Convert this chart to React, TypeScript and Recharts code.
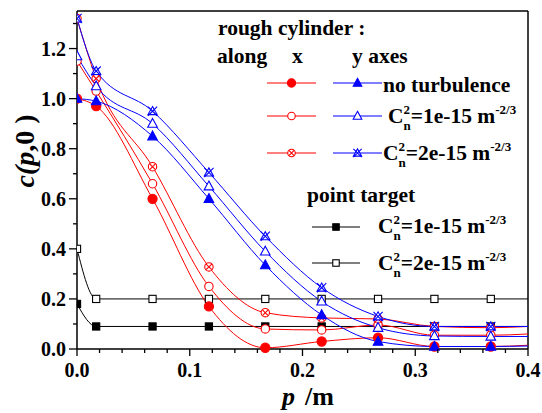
import React from 'react';
import { LineChart, Line, XAxis, YAxis, ReferenceLine } from 'recharts';

// ---- data ----
const pValues = [0, 0.017, 0.067, 0.117, 0.167, 0.217, 0.267, 0.317, 0.367, 0.4];

// rough cylinder, along x
const xNoTurbulence = [1.0, 0.97, 0.6, 0.17, 0.005, 0.03, 0.045, 0.01, 0.01, 0.015];
const xCn1e15 = [1.15, 1.03, 0.66, 0.25, 0.08, 0.076, 0.096, 0.055, 0.055, 0.06];
const xCn2e15 = [1.32, 1.08, 0.728, 0.328, 0.145, 0.124, 0.12, 0.09, 0.085, 0.09];

// rough cylinder, along y
const yNoTurbulence = [1.0, 0.99, 0.85, 0.6, 0.335, 0.136, 0.03, 0.01, 0.01, 0.012];
const yCn1e15 = [1.17, 1.05, 0.9, 0.65, 0.39, 0.19, 0.085, 0.052, 0.05, 0.05];
const yCn2e15 = [1.32, 1.11, 0.95, 0.705, 0.45, 0.245, 0.13, 0.09, 0.09, 0.09];

// point target
const ptCn1e15 = [0.18, 0.09, 0.09, 0.09, 0.09, 0.09, 0.09, 0.09, 0.09, 0.09];
const ptCn2e15 = [0.4, 0.2, 0.2, 0.2, 0.2, 0.2, 0.2, 0.2, 0.2, 0.2];

const xTicks = [0, 0.02, 0.04, 0.06, 0.08, 0.1, 0.12, 0.14, 0.16, 0.18, 0.2, 0.22, 0.24, 0.26, 0.28, 0.3, 0.32, 0.34, 0.36, 0.38, 0.4];
const yTicks = [0, 0.1, 0.2, 0.3, 0.4, 0.5, 0.6, 0.7, 0.8, 0.9, 1.0, 1.1, 1.2, 1.3];

const RED = '#ff0000';
const BLUE = '#0000ff';
const BLACK = '#000000';
const FONT = '"Liberation Serif", "Times New Roman", serif';
const LEG = 21.5;

type Shape = 'circleFilled' | 'circleOpen' | 'circleCross' | 'triFilled' | 'triOpen' | 'star' | 'squareFilled' | 'squareOpen';

const series: { key: string; values: number[]; color: string; shape: Shape }[] = [
  { key: 'pt1', values: ptCn1e15, color: BLACK, shape: 'squareFilled' },
  { key: 'pt2', values: ptCn2e15, color: BLACK, shape: 'squareOpen' },
  { key: 'x0', values: xNoTurbulence, color: RED, shape: 'circleFilled' },
  { key: 'x1', values: xCn1e15, color: RED, shape: 'circleOpen' },
  { key: 'x2', values: xCn2e15, color: RED, shape: 'circleCross' },
  { key: 'y0', values: yNoTurbulence, color: BLUE, shape: 'triFilled' },
  { key: 'y1', values: yCn1e15, color: BLUE, shape: 'triOpen' },
  { key: 'y2', values: yCn2e15, color: BLUE, shape: 'star' },
];

const data = pValues.map((p, i) => {
  const row: Record<string, number> = { p };
  series.forEach((s) => {
    row[s.key] = s.values[i];
  });
  return row;
});

function Marker({ shape, color, cx, cy, scale = 1 }: { shape: Shape; color: string; cx: number; cy: number; scale?: number }) {
  const r = 4.2 * scale;
  const sw = 1.1;
  switch (shape) {
    case 'circleFilled':
      return <circle cx={cx} cy={cy} r={4.6 * scale} fill={color} stroke={color} strokeWidth={sw} />;
    case 'circleOpen':
      return <circle cx={cx} cy={cy} r={r} fill="#fff" stroke={color} strokeWidth={sw} />;
    case 'circleCross': {
      const d = r * 0.68;
      return (
        <g>
          <circle cx={cx} cy={cy} r={r} fill="#fff" stroke={color} strokeWidth={sw} />
          <path d={`M${cx - d},${cy - d}L${cx + d},${cy + d}M${cx - d},${cy + d}L${cx + d},${cy - d}`} stroke={color} strokeWidth={sw} />
        </g>
      );
    }
    case 'triFilled':
    case 'triOpen': {
      const h = 5.2 * scale;
      const w = 4.8 * scale;
      return (
        <polygon
          points={`${cx},${cy - h} ${cx + w},${cy + h * 0.7} ${cx - w},${cy + h * 0.7}`}
          fill={shape === 'triFilled' ? color : '#fff'}
          stroke={color}
          strokeWidth={sw}
        />
      );
    }
    case 'star': {
      const s = 4.6 * scale;
      return (
        <g fill="none" stroke={color} strokeWidth={sw}>
          <polygon points={`${cx},${cy - s} ${cx + s},${cy + s * 0.75} ${cx - s},${cy + s * 0.75}`} fill="#fff" />
          <path d={`M${cx - s},${cy - s}L${cx + s},${cy + s}M${cx - s},${cy + s}L${cx + s},${cy - s}`} />
        </g>
      );
    }
    case 'squareFilled':
    case 'squareOpen': {
      const a = 3.6 * scale;
      return (
        <rect
          x={cx - a}
          y={cy - a}
          width={2 * a}
          height={2 * a}
          fill={shape === 'squareFilled' ? color : '#fff'}
          stroke={color}
          strokeWidth={sw}
        />
      );
    }
  }
  return null;
}

const makeDot = (shape: Shape, color: string, key: string) => (props: any) => {
  const { cx, cy, payload, index } = props;
  if (payload.p >= 0.4 || cx == null || cy == null) return <g key={`${key}-${index}`} />;
  if (payload.p === 0) {
    const cid = `clip-left-${key}`;
    return (
      <g key={`${key}-${index}`}>
        <defs>
          <clipPath id={cid}>
            <rect x={cx} y={cy - 10} width={12} height={20} />
          </clipPath>
        </defs>
        <g clipPath={`url(#${cid})`}>
          <Marker shape={shape} color={color} cx={cx} cy={cy} />
        </g>
      </g>
    );
  }
  return (
    <g key={`${key}-${index}`}>
      <Marker shape={shape} color={color} cx={cx} cy={cy} />
    </g>
  );
};

const isMajor = (v: number) => Math.abs(v * 10 - Math.round(v * 10)) < 1e-6;
const isEvenTenth = (v: number) => Math.round(v * 10) % 2 === 0;

const XTick = (props: any) => {
  const { x, y, payload } = props;
  const v = payload.value as number;
  const major = isMajor(v);
  return (
    <g>
      <line x1={x} x2={x} y1={y} y2={y + (major ? 7 : 4)} stroke={BLACK} strokeWidth={1.3} />
      {major && (
        <text x={x} y={y + 28} textAnchor="middle" fontFamily={FONT} fontWeight="bold" fontSize={20} fill={BLACK}>
          {v.toFixed(1)}
        </text>
      )}
    </g>
  );
};

const YTick = (props: any) => {
  const { x, y, payload } = props;
  const v = payload.value as number;
  const major = isEvenTenth(v);
  return (
    <g>
      <line x1={x} x2={x - (major ? 8 : 4)} y1={y} y2={y} stroke={BLACK} strokeWidth={1.3} />
      {major && (
        <text x={x - 11} y={y + 7} textAnchor="end" fontFamily={FONT} fontWeight="bold" fontSize={20} fill={BLACK}>
          {v.toFixed(1)}
        </text>
      )}
    </g>
  );
};

function CnLabel({ x, y, value }: { x: number; y: number; value: string }) {
  return (
    <text x={x} y={y} fontFamily={FONT} fontWeight="bold" fontSize={LEG} fill={BLACK}>
      C
      <tspan fontSize={13} dy={-9}>2</tspan>
      <tspan fontSize={13} dx={-6.5} dy={16}>n</tspan>
      <tspan dy={-7}>{`=${value} m`}</tspan>
      <tspan fontSize={13} dy={-9}>-2/3</tspan>
    </text>
  );
}

function LegendRow({ y, left, right }: { y: number; left?: { shape: Shape; color: string; x1: number; x2: number }; right: { shape: Shape; color: string; x1: number; x2: number } }) {
  const items = left ? [left, right] : [right];
  return (
    <g>
      {items.map((it, i) => (
        <g key={i}>
          <line x1={it.x1} x2={it.x2} y1={y} y2={y} stroke={it.color} strokeWidth={1.1} />
          <Marker shape={it.shape} color={it.color} cx={(it.x1 + it.x2) / 2} cy={y} scale={0.9} />
        </g>
      ))}
    </g>
  );
}

export default function App() {
  const W = 542;
  const H = 413;
  return (
    <div style={{ position: 'absolute', left: 0, top: 0, width: W, height: H, background: '#fff' }}>
      <LineChart width={W} height={H} data={data} margin={{ top: 11, right: 14, left: 0, bottom: 0 }}>
        <XAxis
          dataKey="p"
          type="number"
          domain={[0, 0.4]}
          ticks={xTicks}
          interval={0}
          height={64}
          tickLine={false}
          tickSize={0}
          tickMargin={0}
          tick={(props: any) => <XTick {...props} />}
          axisLine={{ stroke: BLACK, strokeWidth: 1.5 }}
        />
        <YAxis
          type="number"
          domain={[0, 1.35]}
          ticks={yTicks}
          interval={0}
          width={77}
          tickLine={false}
          tickSize={0}
          tickMargin={0}
          tick={(props: any) => <YTick {...props} />}
          axisLine={{ stroke: BLACK, strokeWidth: 1.5 }}
        />
        <ReferenceLine y={1.35} stroke={BLACK} strokeWidth={1.5} />
        <ReferenceLine x={0.4} stroke={BLACK} strokeWidth={1.5} />
        {series.map((s) => (
          <Line
            key={s.key}
            dataKey={s.key}
            type="monotone"
            stroke={s.color}
            strokeWidth={1}
            dot={makeDot(s.shape, s.color, s.key)}
            activeDot={false}
            isAnimationActive={false}
          />
        ))}
      </LineChart>
      <svg width={W} height={H} style={{ position: 'absolute', left: 0, top: 0, pointerEvents: 'none' }}>
        {/* axis titles */}
        <text x={282} y={405} fontFamily={FONT} fontWeight="bold" fontSize={26} fill={BLACK}>
          <tspan fontStyle="italic">p</tspan>
          <tspan x={305}>/m</tspan>
        </text>
        <text
          x={34}
          y={151}
          transform="rotate(-90 34 151)"
          textAnchor="middle"
          fontFamily={FONT}
          fontWeight="bold"
          fontSize={28}
          fill={BLACK}
        >
          <tspan fontStyle="italic">c(p</tspan>
          <tspan>,0 )</tspan>
        </text>

        {/* legend: rough cylinder */}
        <text x={218} y={35} fontFamily={FONT} fontWeight="bold" fontSize={LEG} fill={BLACK}>rough cylinder :</text>
        <text x={217} y={63} fontFamily={FONT} fontWeight="bold" fontSize={LEG} fill={BLACK}>along</text>
        <text x={292} y={63} fontFamily={FONT} fontWeight="bold" fontSize={LEG} fill={BLACK}>x</text>
        <text x={352} y={63} fontFamily={FONT} fontWeight="bold" fontSize={LEG} fill={BLACK}>y axes</text>

        <LegendRow
          y={83}
          left={{ shape: 'circleFilled', color: RED, x1: 267, x2: 316 }}
          right={{ shape: 'triFilled', color: BLUE, x1: 333, x2: 382 }}
        />
        <text x={383} y={92} fontFamily={FONT} fontWeight="bold" fontSize={LEG} fill={BLACK}>no turbulence</text>

        <LegendRow
          y={116}
          left={{ shape: 'circleOpen', color: RED, x1: 267, x2: 316 }}
          right={{ shape: 'triOpen', color: BLUE, x1: 333, x2: 382 }}
        />
        <CnLabel x={388} y={123} value="1e-15" />

        <LegendRow
          y={153}
          left={{ shape: 'circleCross', color: RED, x1: 267, x2: 316 }}
          right={{ shape: 'star', color: BLUE, x1: 333, x2: 382 }}
        />
        <CnLabel x={383} y={160} value="2e-15" />

        {/* legend: point target */}
        <text x={307} y={202} fontFamily={FONT} fontWeight="bold" fontSize={LEG} fill={BLACK}>point target</text>
        <LegendRow y={227} right={{ shape: 'squareFilled', color: BLACK, x1: 312, x2: 360 }} />
        <CnLabel x={378} y={233} value="1e-15" />
        <LegendRow y={263} right={{ shape: 'squareOpen', color: BLACK, x1: 312, x2: 360 }} />
        <CnLabel x={378} y={270} value="2e-15" />
      </svg>
    </div>
  );
}
